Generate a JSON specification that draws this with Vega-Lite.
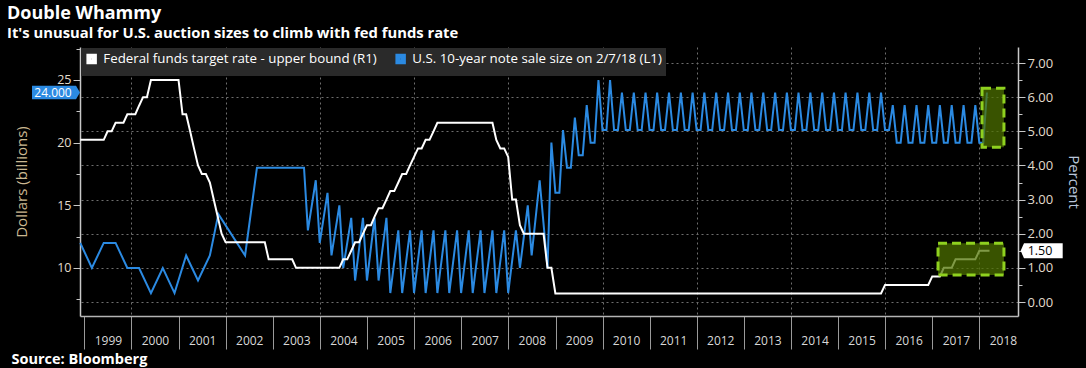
{
  "$schema": "https://vega.github.io/schema/vega-lite/v6.json",
  "width": 938,
  "height": 269,
  "autosize": {"type": "none"},
  "padding": {"left": 80, "top": 47, "right": 68, "bottom": 52},
  "background": "#000000",
  "config": {
    "view": {"stroke": null},
    "font": "Open Sans",
    "legend": {
      "orient": "top-left", "offset": 1, "padding": 4, "fillColor": "#2a2a2a",
      "direction": "horizontal", "columnPadding": 10, "labelOffset": 5,
      "symbolType": "square", "symbolSize": 30, "symbolStrokeWidth": 5,
      "labelLimit": 400, "labelColor": "#ffffff", "labelFont": "Open Sans", "labelFontSize": 13.3
    }
  },
  "title": {
    "text": "Double Whammy",
    "subtitle": "It's unusual for U.S. auction sizes to climb with fed funds rate",
    "anchor": "start", "frame": "group", "dx": -73, "offset": 6,
    "color": "#ffffff", "font": "Open Sans", "fontSize": 18, "fontWeight": "bold",
    "subtitleColor": "#ffffff", "subtitleFont": "Open Sans", "subtitleFontSize": 14.8,
    "subtitleFontWeight": "bold", "subtitlePadding": 3
  },
  "datasets": {
    "auction": [
      {"date": "1998-11-30", "size": 12}, {"date": "1999-02-28", "size": 10}, {"date": "1999-05-31", "size": 12},
      {"date": "1999-08-31", "size": 12}, {"date": "1999-11-30", "size": 10}, {"date": "2000-02-29", "size": 10},
      {"date": "2000-05-31", "size": 8}, {"date": "2000-08-31", "size": 10}, {"date": "2000-11-30", "size": 8},
      {"date": "2001-02-28", "size": 11}, {"date": "2001-05-31", "size": 9}, {"date": "2001-08-31", "size": 11},
      {"date": "2001-11-05", "size": 14.3}, {"date": "2002-05-31", "size": 11}, {"date": "2002-08-31", "size": 18},
      {"date": "2002-11-30", "size": 18}, {"date": "2003-02-28", "size": 18}, {"date": "2003-05-31", "size": 18},
      {"date": "2003-08-31", "size": 18}, {"date": "2003-09-30", "size": 13}, {"date": "2003-11-30", "size": 17},
      {"date": "2003-12-31", "size": 12}, {"date": "2004-02-29", "size": 16}, {"date": "2004-03-31", "size": 11},
      {"date": "2004-05-31", "size": 15}, {"date": "2004-06-30", "size": 10}, {"date": "2004-08-31", "size": 14},
      {"date": "2004-09-30", "size": 9}, {"date": "2004-11-30", "size": 14}, {"date": "2004-12-31", "size": 9},
      {"date": "2005-02-28", "size": 14}, {"date": "2005-03-31", "size": 9}, {"date": "2005-05-31", "size": 14},
      {"date": "2005-06-30", "size": 8}, {"date": "2005-08-31", "size": 13}, {"date": "2005-09-30", "size": 8},
      {"date": "2005-11-30", "size": 13}, {"date": "2005-12-31", "size": 8},
      {"date": "2006-02-28", "size": 13}, {"date": "2006-03-31", "size": 8}, {"date": "2006-05-31", "size": 13},
      {"date": "2006-06-30", "size": 8}, {"date": "2006-08-31", "size": 13}, {"date": "2006-09-30", "size": 8},
      {"date": "2006-11-30", "size": 13}, {"date": "2006-12-31", "size": 8},
      {"date": "2007-02-28", "size": 13}, {"date": "2007-03-31", "size": 8}, {"date": "2007-05-31", "size": 13},
      {"date": "2007-06-30", "size": 8}, {"date": "2007-08-31", "size": 13}, {"date": "2007-09-30", "size": 8},
      {"date": "2007-11-30", "size": 13}, {"date": "2007-12-31", "size": 8},
      {"date": "2008-02-29", "size": 13}, {"date": "2008-03-31", "size": 10}, {"date": "2008-05-31", "size": 15},
      {"date": "2008-06-30", "size": 11}, {"date": "2008-08-31", "size": 17}, {"date": "2008-10-31", "size": 10},
      {"date": "2008-11-30", "size": 20}, {"date": "2008-12-31", "size": 16},
      {"date": "2009-01-31", "size": 16}, {"date": "2009-02-28", "size": 21}, {"date": "2009-03-31", "size": 18},
      {"date": "2009-04-30", "size": 18}, {"date": "2009-05-31", "size": 22}, {"date": "2009-06-30", "size": 19},
      {"date": "2009-07-31", "size": 19}, {"date": "2009-08-31", "size": 23}, {"date": "2009-09-30", "size": 20},
      {"date": "2009-10-31", "size": 20}, {"date": "2009-11-30", "size": 25}, {"date": "2009-12-31", "size": 21},
      {"date": "2010-01-31", "size": 21}, {"date": "2010-02-28", "size": 25}, {"date": "2010-03-31", "size": 21},
      {"date": "2010-04-30", "size": 21}, {"date": "2010-05-31", "size": 24}, {"date": "2010-06-30", "size": 21},
      {"date": "2010-07-31", "size": 21}, {"date": "2010-08-31", "size": 24}, {"date": "2010-09-30", "size": 21},
      {"date": "2010-10-31", "size": 21}, {"date": "2010-11-30", "size": 24}, {"date": "2010-12-31", "size": 21},
      {"date": "2011-01-31", "size": 21}, {"date": "2011-02-28", "size": 24}, {"date": "2011-03-31", "size": 21},
      {"date": "2011-04-30", "size": 21}, {"date": "2011-05-31", "size": 24}, {"date": "2011-06-30", "size": 21},
      {"date": "2011-07-31", "size": 21}, {"date": "2011-08-31", "size": 24}, {"date": "2011-09-30", "size": 21},
      {"date": "2011-10-31", "size": 21}, {"date": "2011-11-30", "size": 24}, {"date": "2011-12-31", "size": 21},
      {"date": "2012-01-31", "size": 21}, {"date": "2012-02-29", "size": 24}, {"date": "2012-03-31", "size": 21},
      {"date": "2012-04-30", "size": 21}, {"date": "2012-05-31", "size": 24}, {"date": "2012-06-30", "size": 21},
      {"date": "2012-07-31", "size": 21}, {"date": "2012-08-31", "size": 24}, {"date": "2012-09-30", "size": 21},
      {"date": "2012-10-31", "size": 21}, {"date": "2012-11-30", "size": 24}, {"date": "2012-12-31", "size": 21},
      {"date": "2013-01-31", "size": 21}, {"date": "2013-02-28", "size": 24}, {"date": "2013-03-31", "size": 21},
      {"date": "2013-04-30", "size": 21}, {"date": "2013-05-31", "size": 24}, {"date": "2013-06-30", "size": 21},
      {"date": "2013-07-31", "size": 21}, {"date": "2013-08-31", "size": 24}, {"date": "2013-09-30", "size": 21},
      {"date": "2013-10-31", "size": 21}, {"date": "2013-11-30", "size": 24}, {"date": "2013-12-31", "size": 21},
      {"date": "2014-01-31", "size": 21}, {"date": "2014-02-28", "size": 24}, {"date": "2014-03-31", "size": 21},
      {"date": "2014-04-30", "size": 21}, {"date": "2014-05-31", "size": 24}, {"date": "2014-06-30", "size": 21},
      {"date": "2014-07-31", "size": 21}, {"date": "2014-08-31", "size": 24}, {"date": "2014-09-30", "size": 21},
      {"date": "2014-10-31", "size": 21}, {"date": "2014-11-30", "size": 24}, {"date": "2014-12-31", "size": 21},
      {"date": "2015-01-31", "size": 21}, {"date": "2015-02-28", "size": 24}, {"date": "2015-03-31", "size": 21},
      {"date": "2015-04-30", "size": 21}, {"date": "2015-05-31", "size": 24}, {"date": "2015-06-30", "size": 21},
      {"date": "2015-07-31", "size": 21}, {"date": "2015-08-31", "size": 24}, {"date": "2015-09-30", "size": 21},
      {"date": "2015-10-31", "size": 21}, {"date": "2015-11-30", "size": 24}, {"date": "2015-12-31", "size": 21},
      {"date": "2016-01-31", "size": 21}, {"date": "2016-02-29", "size": 23}, {"date": "2016-03-31", "size": 20},
      {"date": "2016-04-30", "size": 20}, {"date": "2016-05-31", "size": 23}, {"date": "2016-06-30", "size": 20},
      {"date": "2016-07-31", "size": 20}, {"date": "2016-08-31", "size": 23}, {"date": "2016-09-30", "size": 20},
      {"date": "2016-10-31", "size": 20}, {"date": "2016-11-30", "size": 23}, {"date": "2016-12-31", "size": 20},
      {"date": "2017-01-31", "size": 20}, {"date": "2017-02-28", "size": 23}, {"date": "2017-03-31", "size": 20},
      {"date": "2017-04-30", "size": 20}, {"date": "2017-05-31", "size": 23}, {"date": "2017-06-30", "size": 20},
      {"date": "2017-07-31", "size": 20}, {"date": "2017-08-31", "size": 23}, {"date": "2017-09-30", "size": 20},
      {"date": "2017-10-31", "size": 20}, {"date": "2017-11-30", "size": 23}, {"date": "2017-12-31", "size": 20},
      {"date": "2018-01-31", "size": 20}, {"date": "2018-02-28", "size": 24}
    ],
    "fed": [
      {"date": "1998-11-30", "rate": 4.75}, {"date": "1999-05-31", "rate": 4.75}, {"date": "1999-06-30", "rate": 5.0},
      {"date": "1999-07-31", "rate": 5.0}, {"date": "1999-08-31", "rate": 5.25}, {"date": "1999-10-31", "rate": 5.25},
      {"date": "1999-11-30", "rate": 5.5}, {"date": "2000-01-31", "rate": 5.5}, {"date": "2000-02-29", "rate": 5.75},
      {"date": "2000-03-31", "rate": 6.0}, {"date": "2000-04-30", "rate": 6.0}, {"date": "2000-05-31", "rate": 6.5},
      {"date": "2000-12-31", "rate": 6.5}, {"date": "2001-01-31", "rate": 5.5}, {"date": "2001-02-28", "rate": 5.5},
      {"date": "2001-03-31", "rate": 5.0}, {"date": "2001-04-30", "rate": 4.5}, {"date": "2001-05-31", "rate": 4.0},
      {"date": "2001-06-30", "rate": 3.75}, {"date": "2001-07-31", "rate": 3.75}, {"date": "2001-08-31", "rate": 3.5},
      {"date": "2001-09-30", "rate": 3.0}, {"date": "2001-10-31", "rate": 2.5}, {"date": "2001-11-30", "rate": 2.0},
      {"date": "2001-12-31", "rate": 1.75}, {"date": "2002-10-31", "rate": 1.75}, {"date": "2002-11-30", "rate": 1.25},
      {"date": "2003-05-31", "rate": 1.25}, {"date": "2003-06-30", "rate": 1.0}, {"date": "2004-05-31", "rate": 1.0},
      {"date": "2004-06-30", "rate": 1.25}, {"date": "2004-07-31", "rate": 1.25}, {"date": "2004-08-31", "rate": 1.5},
      {"date": "2004-09-30", "rate": 1.75}, {"date": "2004-10-31", "rate": 1.75}, {"date": "2004-11-30", "rate": 2.0},
      {"date": "2004-12-31", "rate": 2.25}, {"date": "2005-01-31", "rate": 2.25}, {"date": "2005-02-28", "rate": 2.5},
      {"date": "2005-03-31", "rate": 2.75}, {"date": "2005-04-30", "rate": 2.75}, {"date": "2005-05-31", "rate": 3.0},
      {"date": "2005-06-30", "rate": 3.25}, {"date": "2005-07-31", "rate": 3.25}, {"date": "2005-08-31", "rate": 3.5},
      {"date": "2005-09-30", "rate": 3.75}, {"date": "2005-10-31", "rate": 3.75}, {"date": "2005-11-30", "rate": 4.0},
      {"date": "2005-12-31", "rate": 4.25}, {"date": "2006-01-31", "rate": 4.5}, {"date": "2006-02-28", "rate": 4.5},
      {"date": "2006-03-31", "rate": 4.75}, {"date": "2006-04-30", "rate": 4.75}, {"date": "2006-05-31", "rate": 5.0},
      {"date": "2006-06-30", "rate": 5.25}, {"date": "2007-08-31", "rate": 5.25}, {"date": "2007-09-30", "rate": 4.75},
      {"date": "2007-10-31", "rate": 4.5}, {"date": "2007-11-30", "rate": 4.5}, {"date": "2007-12-31", "rate": 4.25},
      {"date": "2008-01-31", "rate": 3.0}, {"date": "2008-02-29", "rate": 3.0}, {"date": "2008-03-31", "rate": 2.25},
      {"date": "2008-04-30", "rate": 2.0}, {"date": "2008-09-30", "rate": 2.0}, {"date": "2008-10-31", "rate": 1.0},
      {"date": "2008-11-30", "rate": 1.0}, {"date": "2008-12-31", "rate": 0.25}, {"date": "2015-11-30", "rate": 0.25},
      {"date": "2015-12-31", "rate": 0.5}, {"date": "2016-11-30", "rate": 0.5}, {"date": "2016-12-31", "rate": 0.75},
      {"date": "2017-02-28", "rate": 0.75}, {"date": "2017-03-31", "rate": 1.0}, {"date": "2017-05-31", "rate": 1.0},
      {"date": "2017-06-30", "rate": 1.25}, {"date": "2017-11-30", "rate": 1.25}, {"date": "2017-12-31", "rate": 1.5},
      {"date": "2018-03-20", "rate": 1.5}
    ],
    "boxes": [
      {"date": "2018-01-21", "date2": "2018-07-10", "lo": 4.53, "hi": 6.26},
      {"date": "2017-02-14", "date2": "2018-07-10", "lo": 0.79, "hi": 1.72}
    ],
    "tagL": [{"value": 24, "label": "24.000"}],
    "tagR": [{"value": 1.5, "label": "1.50"}]
  },
  "layer": [
    {
      "resolve": {"axis": {"y": "independent"}},
      "layer": [
        {
          "data": {"name": "auction"},
          "mark": {"type": "line", "strokeWidth": 2},
          "encoding": {
            "x": {
              "field": "date", "type": "temporal",
              "scale": {"domain": ["1998-11-28", "2018-10-27"]},
              "axis": {
                "values": ["1999-01-01", "2000-01-01", "2001-01-01", "2002-01-01", "2003-01-01", "2004-01-01", "2005-01-01", "2006-01-01", "2007-01-01", "2008-01-01", "2009-01-01", "2010-01-01", "2011-01-01", "2012-01-01", "2013-01-01", "2014-01-01", "2015-01-01", "2016-01-01", "2017-01-01", "2018-01-01"],
                "format": "%Y", "labelOffset": 23.5, "labelPadding": -14, "tickSize": 33,
                "tickColor": "#9a9a9a", "domainColor": "#b4b4b4", "domainWidth": 1.5,
                "labelColor": "#d8d8d8", "labelFont": "Open Sans", "labelFontSize": 12,
                "labelOverlap": false, "labelFlush": false, "labelBound": false,
                "grid": true, "gridColor": "#6e6e6e", "gridDash": [2, 3],
                "gridOpacity": {"condition": {"test": "year(datum.value) % 2 == 0", "value": 1}, "value": 0},
                "title": "Source: Bloomberg", "titleAnchor": "start", "titleAlign": "left",
                "titleX": -69, "titleY": 47, "titleBaseline": "alphabetic",
                "titleColor": "#ffffff", "titleFont": "Open Sans", "titleFontSize": 14.5, "titleFontWeight": "bold"
              }
            },
            "y": {
              "field": "size", "type": "quantitative",
              "scale": {"domain": [6.17, 27.63], "nice": false, "zero": false},
              "axis": {
                "orient": "left", "title": "Dollars (billions)",
                "values": [10, 15, 20, 25],
                "format": "d",
                "tickSize": 7,
                "tickColor": "#c8c8c8", "domainColor": "#c8c8c8", "domainWidth": 1.5,
                "labelColor": "#e2dccd", "labelFont": "Open Sans", "labelFontSize": 12.5, "labelPadding": 2,
                "grid": false,
                "titleColor": "#cbb892", "titleFont": "Open Sans", "titleFontSize": 15,
                "titleFontWeight": "normal", "titlePadding": 27
              }
            },
            "color": {
              "datum": "U.S. 10-year note sale size on 2/7/18 (L1)", "type": "nominal",
              "scale": {
                "domain": ["Federal funds target rate - upper bound (R1)", "U.S. 10-year note sale size on 2/7/18 (L1)"],
                "range": ["#ffffff", "#2b8ae2"]
              },
              "legend": {"title": null}
            }
          }
        },
        {
          "data": {"name": "tagL"},
          "mark": {"type": "point", "shape": "M -1 -0.14 L -0.083 -0.14 L 0 0 L -0.083 0.14 L -1 0.14 Z", "size": 9216, "filled": true, "fill": "#2b8ae2", "opacity": 1, "strokeWidth": 0},
          "encoding": {
            "x": {"datum": {"year": 1998, "month": 11, "date": 28}, "type": "temporal"},
            "y": {
              "field": "value", "type": "quantitative",
              "axis": {"orient": "left", "values": [7.5, 12.5, 17.5, 22.5, 27.5], "labels": false, "domain": false, "grid": false, "tickSize": 4, "tickColor": "#c8c8c8", "title": null}
            }
          }
        },
        {
          "data": {"name": "tagL"},
          "mark": {"type": "text", "color": "#ffffff", "font": "Open Sans", "fontSize": 12, "dx": -27, "align": "center", "baseline": "middle"},
          "encoding": {
            "x": {"datum": {"year": 1998, "month": 11, "date": 28}, "type": "temporal"},
            "y": {"field": "value", "type": "quantitative", "axis": null},
            "text": {"field": "label"}
          }
        }
      ]
    },
    {
      "resolve": {"axis": {"y": "independent"}},
      "layer": [
        {
          "data": {"name": "fed"},
          "mark": {"type": "line", "strokeWidth": 2},
          "encoding": {
            "x": {"field": "date", "type": "temporal"},
            "y": {
              "field": "rate", "type": "quantitative",
              "scale": {"domain": [-0.41, 7.47], "nice": false, "zero": false},
              "axis": {
                "orient": "right", "title": "Percent",
                "values": [0, 1, 2, 3, 4, 5, 6, 7],
                "format": ".2f",
                "tickSize": 7,
                "tickColor": "#c8c8c8", "domainColor": "#c8c8c8", "domainWidth": 1.5,
                "labelColor": "#e2dccd", "labelFont": "Open Sans", "labelFontSize": 13, "labelPadding": 2,
                "grid": true, "gridColor": "#6e6e6e", "gridDash": [2, 3],
                "titleColor": "#b9c6da", "titleFont": "Open Sans", "titleFontSize": 15,
                "titleFontWeight": "normal", "titlePadding": 13
              }
            },
            "color": {"datum": "Federal funds target rate - upper bound (R1)", "type": "nominal"}
          }
        },
        {
          "data": {"name": "boxes"},
          "mark": {"type": "rect", "fill": "#4f7300", "fillOpacity": 0.72, "stroke": "#8fd11f", "strokeWidth": 3, "strokeDash": [9, 5]},
          "encoding": {
            "x": {"field": "date", "type": "temporal"},
            "x2": {"field": "date2"},
            "y": {"field": "lo", "type": "quantitative", "axis": null},
            "y2": {"field": "hi"}
          }
        },
        {
          "data": {"name": "tagR"},
          "mark": {"type": "point", "shape": "M 0.06 0 L 0.134 -0.168 L 1 -0.168 L 1 0.168 L 0.134 0.168 Z", "size": 7992, "filled": true, "fill": "#ffffff", "opacity": 1, "strokeWidth": 0},
          "encoding": {
            "x": {"datum": {"year": 2018, "month": 10, "date": 27}, "type": "temporal"},
            "y": {
              "field": "value", "type": "quantitative",
              "axis": {"orient": "right", "values": [0.5, 1.5, 2.5, 3.5, 4.5, 5.5, 6.5], "labels": false, "domain": false, "grid": false, "tickSize": 4, "tickColor": "#c8c8c8", "title": null}
            }
          }
        },
        {
          "data": {"name": "tagR"},
          "mark": {"type": "text", "color": "#000000", "font": "Open Sans", "fontSize": 12.5, "dx": 22, "align": "center", "baseline": "middle"},
          "encoding": {
            "x": {"datum": {"year": 2018, "month": 10, "date": 27}, "type": "temporal"},
            "y": {"field": "value", "type": "quantitative", "axis": null},
            "text": {"field": "label"}
          }
        }
      ]
    }
  ],
  "resolve": {"scale": {"y": "independent"}}
}
